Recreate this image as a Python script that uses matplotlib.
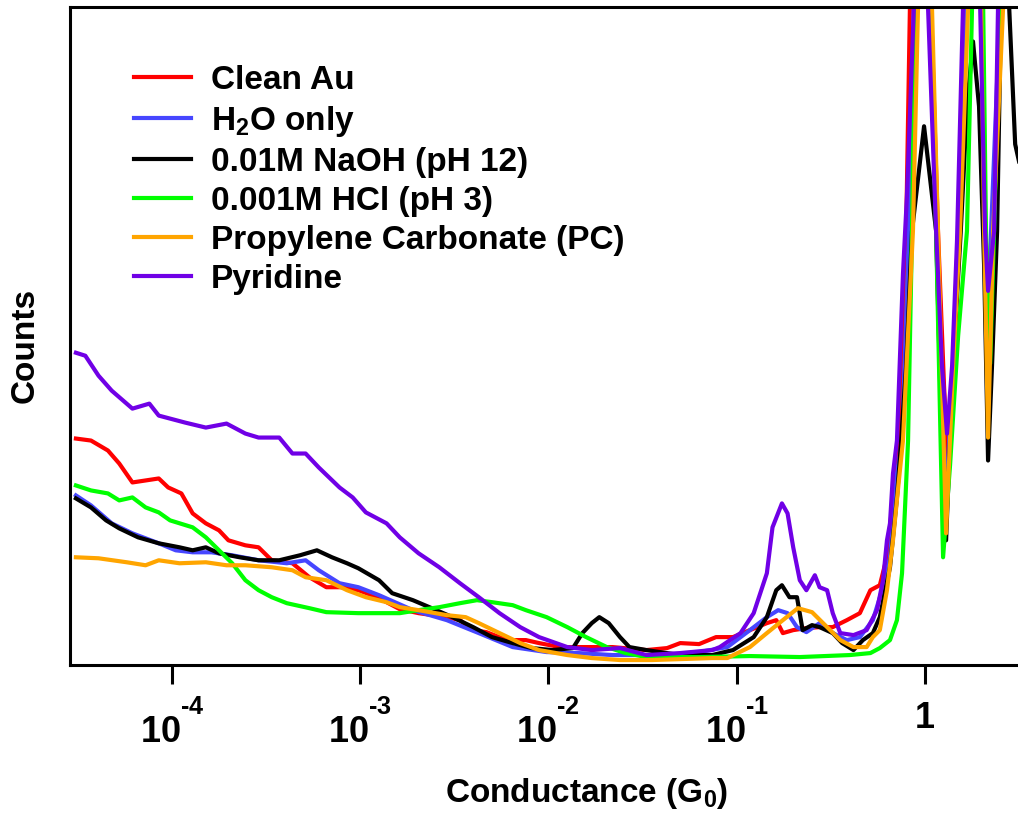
import matplotlib
matplotlib.use("Agg")
import matplotlib.pyplot as plt
import matplotlib._mathtext as mathtext_internals
import numpy as np

plt.rcParams["font.family"] = ["Liberation Sans", "DejaVu Sans"]
plt.rcParams["font.weight"] = "bold"
plt.rcParams["mathtext.fontset"] = "custom"
plt.rcParams["mathtext.rm"] = "Liberation Sans:bold"
plt.rcParams["mathtext.it"] = "Liberation Sans:bold"
plt.rcParams["mathtext.bf"] = "Liberation Sans:bold"
plt.rcParams["mathtext.default"] = "rm"
# raise the exponents a bit higher, like the original axis labels
mathtext_internals.FontConstantsBase.sup1 = 1.4

# log10(G/G0) and counts (arbitrary units)
lg_red = [-4.51, -4.43, -4.34, -4.28, -4.21, -4.14, -4.07, -4.02, -3.95, -3.89, -3.82, -3.75,
          -3.70, -3.61, -3.54, -3.47, -3.36, -3.27, -3.18, -3.10, -3.01, -2.91, -2.86, -2.79,
          -2.69, -2.54, -2.47, -2.40, -2.33, -2.22, -2.12, -2.05, -1.94, -1.84, -1.66, -1.48,
          -1.37, -1.30, -1.20, -1.11, -1.02, -0.93, -0.84, -0.79, -0.755, -0.70, -0.63, -0.56,
          -0.49, -0.415, -0.346, -0.29, -0.24, -0.20, -0.186, -0.138, -0.10, -0.08, -0.016,
          0.032, 0.069, 0.101, 0.122, 0.144, 0.176, 0.213, 0.261, 0.298, 0.319, 0.346, 0.367,
          0.394, 0.452, 0.505]
cnt_red = [227, 225, 215, 202, 183, 185, 187, 178, 172, 152, 142, 135,
           125, 120, 118, 105, 102, 88, 78, 78, 75, 68, 63, 56,
           52, 48, 45, 35, 33, 25, 25, 22, 18, 18, 18, 15,
           17, 22, 21, 28, 28, 35, 42, 45, 32, 35, 37, 38,
           38, 45, 52, 75, 80, 110, 138, 225, 435, 660, 1600,
           660, 435, 280, 202, 280, 435, 660, 1500, 660, 435, 368, 435,
           660, 1600, 1700]

lg_blue = [-4.51, -4.43, -4.32, -4.21, -4.07, -3.98, -3.89, -3.79, -3.68, -3.54, -3.39, -3.29,
           -3.22, -3.11, -3.01, -2.90, -2.72, -2.54, -2.37, -2.19, -2.01, -1.84, -1.66, -1.30,
           -1.20, -1.05, -0.93, -0.84, -0.78, -0.73, -0.68, -0.63, -0.56, -0.49, -0.415, -0.346,
           -0.277, -0.223, -0.186, -0.149, -0.122, -0.085, -0.059, -0.011, 0.032, 0.064, 0.106,
           0.149, 0.186, 0.218, 0.261, 0.298, 0.314, 0.330, 0.351, 0.399, 0.452, 0.505]
cnt_blue = [170, 160, 142, 132, 122, 115, 113, 113, 110, 105, 102, 105,
            95, 82, 78, 70, 55, 45, 32, 18, 13, 12, 10, 10,
            13, 18, 35, 48, 55, 52, 38, 33, 42, 32, 25, 28,
            45, 78, 108, 192, 225, 435, 660, 1600, 660, 435, 145,
            300, 435, 660, 1500, 660, 435, 292, 435, 660, 1600, 1700]

lg_black = [-4.51, -4.43, -4.35, -4.28, -4.18, -4.07, -3.96, -3.89, -3.82, -3.75, -3.64, -3.54,
            -3.43, -3.32, -3.23, -3.15, -3.07, -3.01, -2.90, -2.83, -2.72, -2.62, -2.51, -2.40,
            -2.30, -2.19, -2.09, -1.98, -1.87, -1.82, -1.77, -1.73, -1.68, -1.62, -1.57, -1.48,
            -1.30, -1.13, -1.02, -0.91, -0.84, -0.79, -0.76, -0.72, -0.68, -0.65, -0.60, -0.56,
            -0.49, -0.44, -0.38, -0.33, -0.277, -0.24, -0.186, -0.149, -0.133, -0.10, -0.069,
            -0.005, 0.059, 0.085, 0.112, 0.149, 0.19, 0.223, 0.255, 0.287, 0.314, 0.335, 0.356,
            0.383, 0.404, 0.426, 0.447, 0.479, 0.505]
cnt_black = [167, 158, 145, 137, 128, 122, 118, 115, 118, 112, 108, 105,
             105, 110, 115, 108, 102, 97, 85, 72, 65, 57, 48, 38,
             28, 22, 17, 15, 17, 32, 42, 48, 42, 28, 18, 15,
             10, 10, 15, 28, 48, 75, 80, 68, 68, 35, 40, 38,
             32, 22, 15, 25, 32, 48, 98, 168, 208, 300, 435,
             540, 435, 250, 125, 300, 435, 560, 625, 560, 400, 205, 300,
             435, 660, 760, 660, 522, 500]

lg_green = [-4.51, -4.43, -4.34, -4.28, -4.21, -4.14, -4.07, -4.01, -3.89, -3.82, -3.75, -3.68,
            -3.61, -3.54, -3.47, -3.39, -3.27, -3.18, -3.01, -2.79, -2.69, -2.58, -2.47, -2.38,
            -2.30, -2.19, -2.12, -2.01, -1.90, -1.80, -1.69, -1.59, -1.48, -1.20, -0.93, -0.665,
            -0.40, -0.29, -0.24, -0.186, -0.149, -0.122, -0.106, -0.09, -0.069, -0.053, -0.016,
            0.027, 0.059, 0.096, 0.133, 0.176, 0.223, 0.25, 0.276, 0.309, 0.324, 0.346, 0.367,
            0.399, 0.452, 0.505]
cnt_green = [180, 175, 172, 165, 168, 158, 153, 145, 138, 128, 115, 102,
             85, 75, 68, 62, 57, 53, 52, 52, 55, 58, 62, 65,
             63, 60, 55, 48, 38, 28, 18, 12, 8, 8, 9, 8,
             10, 12, 17, 25, 45, 92, 158, 225, 435, 660, 1500,
             660, 435, 108, 200, 330, 435, 660, 1400, 660, 435, 302, 435,
             660, 1600, 1700]

lg_orange = [-4.51, -4.39, -4.24, -4.14, -4.07, -3.96, -3.82, -3.71, -3.61, -3.47, -3.36, -3.29,
             -3.18, -3.07, -2.97, -2.86, -2.79, -2.69, -2.54, -2.44, -2.37, -2.26, -2.15, -2.05,
             -1.90, -1.77, -1.62, -1.45, -1.13, -1.05, -0.93, -0.84, -0.755, -0.675, -0.60, -0.52,
             -0.45, -0.38, -0.31, -0.277, -0.24, -0.202, -0.17, -0.144, -0.117, -0.064, -0.037,
             -0.005, 0.037, 0.069, 0.112, 0.149, 0.186, 0.229, 0.266, 0.298, 0.314, 0.335, 0.362,
             0.415, 0.463, 0.505]
cnt_orange = [108, 107, 103, 100, 105, 102, 103, 100, 100, 98, 95, 88,
              85, 75, 68, 63, 58, 55, 50, 48, 42, 32, 22, 15,
              10, 7, 5, 5, 7, 7, 18, 32, 45, 57, 53, 38,
              25, 18, 18, 28, 35, 75, 125, 175, 225, 435, 660,
              1500, 660, 435, 132, 300, 435, 660, 1400, 660, 435, 228, 435,
              660, 1500, 1400]

lg_purple = [-4.51, -4.46, -4.39, -4.32, -4.21, -4.12, -4.07, -3.93, -3.82, -3.71, -3.61, -3.54,
             -3.43, -3.36, -3.29, -3.22, -3.11, -3.04, -2.97, -2.86, -2.79, -2.69, -2.58, -2.47,
             -2.37, -2.26, -2.15, -2.05, -1.90, -1.77, -1.62, -1.48, -1.30, -1.13, -1.09, -0.98,
             -0.91, -0.84, -0.81, -0.76, -0.73, -0.70, -0.665, -0.63, -0.585, -0.56, -0.52, -0.49,
             -0.45, -0.38, -0.31, -0.255, -0.223, -0.202, -0.186, -0.17, -0.149, -0.117, -0.096,
             -0.059, -0.021, 0.016, 0.059, 0.09, 0.117, 0.144, 0.17, 0.202, 0.255, 0.293, 0.319,
             0.335, 0.367, 0.388, 0.441, 0.505]
cnt_purple = [313, 310, 290, 275, 257, 262, 250, 243, 238, 242, 232, 228,
              228, 212, 212, 198, 178, 168, 153, 142, 128, 112, 98, 82,
              68, 52, 38, 28, 18, 15, 17, 10, 12, 15, 18, 32,
              52, 92, 138, 162, 152, 118, 85, 75, 90, 78, 75, 52,
              32, 30, 35, 55, 85, 125, 142, 192, 225, 392, 470,
              660, 1600, 660, 435, 300, 232, 300, 425, 660, 1400, 660, 435,
              375, 435, 660, 1600, 1700]

labels = ["Clean Au", "H$_2$O only", "0.01M NaOH (pH 12)", "0.001M HCl (pH 3)",
          "Propylene Carbonate (PC)", "Pyridine"]
colors = ["#ff0000", "#4646ff", "#000000", "#00ff00", "#ffa500", "#7000e6"]
series = [(lg_red, cnt_red), (lg_blue, cnt_blue), (lg_black, cnt_black),
          (lg_green, cnt_green), (lg_orange, cnt_orange), (lg_purple, cnt_purple)]

tick_vals = [1e-4, 1e-3, 1e-2, 1e-1, 1]
tick_labels = ["$10^{\u20104}$", "$10^{\u20103}$", "$10^{\u20102}$", "$10^{\u20101}$", "1"]

fig = plt.figure(figsize=(10.18, 8.17), dpi=100)
ax = fig.add_axes([0.0683, 0.186, 0.9317, 0.806])

for (lg, cnt), c, lab in zip(series, colors, labels):
    ax.plot(10 ** np.array(lg), cnt, color=c, lw=3.0, label=lab)

ax.set_xscale("log")
ax.set_xlim(10 ** -4.544, 10 ** 0.494)
ax.set_ylim(0, 660)

ax.set_xticks(tick_vals)
ax.set_xticklabels(tick_labels)
ax.xaxis.set_minor_locator(matplotlib.ticker.NullLocator())
ax.set_yticks([])
ax.tick_params(axis="x", direction="out", length=14, width=2.2, pad=12, labelsize=26)

for s in ["left", "top", "bottom"]:
    ax.spines[s].set_linewidth(2.2)
ax.spines["right"].set_visible(False)

ax.set_xlabel("Conductance (G$_0$)", fontsize=24, fontweight="bold", labelpad=18)
ax.xaxis.label.set_x(0.545)
ax.set_ylabel("Counts", fontsize=24, fontweight="bold")
ax.yaxis.set_label_coords(-0.031, 0.486)

ax.legend(loc="upper left", bbox_to_anchor=(0.068, 0.911), frameon=False,
          fontsize=24, handlelength=1.7, handletextpad=0.6, labelspacing=0.24,
          borderpad=0, borderaxespad=0)

fig.savefig("out.png", dpi=100)
